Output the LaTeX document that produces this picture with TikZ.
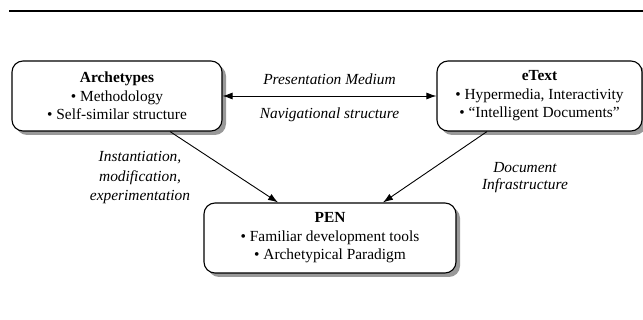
\documentclass[tikz,border=0pt]{standalone}
\usepackage{fontspec}
\setmainfont{Liberation Serif}
\newfontfamily\timesfont{Liberation Serif}
\usetikzlibrary{arrows.meta, positioning, shadows}

\begin{document}
\begin{tikzpicture}[x=1pt, y=-1pt, thick,
    box/.style={draw, rounded corners=11pt, fill=white, line width=1.1pt, align=center,
        font=\timesfont\fontsize{15.4}{18.5}\selectfont, inner sep=0pt,
        drop shadow={shadow xshift=4pt, shadow yshift=-4pt, fill=black!40, opacity=1}},
    lbl/.style={font=\timesfont\fontsize{15.4}{19.5}\selectfont\itshape, align=center},
    >={Latex[length=10pt, width=7pt]}]
    \useasboundingbox (0,0) rectangle (643,320);
    % Rule
    \coordinate (ruleL) at (9,11);
    \coordinate (ruleR) at (643,11);
    \draw[line width=2.5pt] (ruleL) -- (ruleR);
    % Nodes
    \node (arch) [box, minimum width=210pt, minimum height=70pt] at (117,96)
        {\textbf{Archetypes}\\ • Methodology\\ • Self-similar structure};
    \node (etext) [box, minimum width=205pt, minimum height=70pt] at (539.5,96)
        {\textbf{eText}\\ • Hypermedia, Interactivity\\ • “Intelligent Documents”};
    \node (pen) [box, minimum width=252pt, minimum height=70pt] at (330,238)
        {\textbf{PEN}\\ • Familiar development tools\\ • Archetypical Paradigm};
    % Arrows
    \draw[<->, line width=0.9pt] (arch) -- node[lbl, above=8pt] {Presentation Medium}
        node[lbl, below=8pt] {Navigational structure} (etext);
    \draw[->, line width=0.9pt] ([xshift=53pt]arch.south) -- ([xshift=-52pt]pen.north);
    \draw[->, line width=0.9pt] ([xshift=-52.5pt]etext.south) -- ([xshift=53pt]pen.north);
    % Labels
    \node (instlbl) [lbl] at (140,178) {Instantiation,\\ modification,\\ experimentation};
    \node (doclbl) [lbl, font=\timesfont\fontsize{15.4}{17}\selectfont\itshape] at (525,178) {Document\\ Infrastructure};
\end{tikzpicture}
\end{document}
